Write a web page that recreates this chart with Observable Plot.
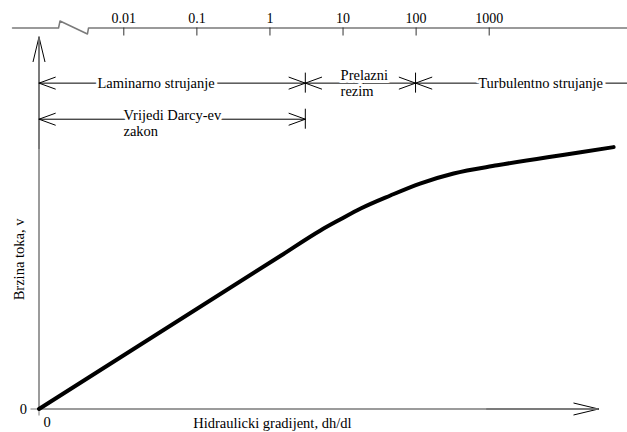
<!DOCTYPE html>
<html><head><meta charset="utf-8">
<script src="https://cdn.jsdelivr.net/npm/d3@7"></script>
<script src="https://cdn.jsdelivr.net/npm/@observablehq/plot@0.6"></script>
<style>
html,body{margin:0;padding:0;background:#fff;overflow:hidden;}
#chart{position:relative;width:627px;height:432px;}
#chart svg{position:absolute;left:0;top:0;overflow:visible;}
</style></head><body><div id="chart"></div>
<script>
// ---- data ----
const gradient = [0, 4.32, 5.03, 5.39, 5.75, 6.28, 6.81, 7.41, 8.19, 9.09, 9.68, 10.27];
const velocity = [0, 4.12, 4.80, 5.10, 5.39, 5.74, 6.06, 6.33, 6.55, 6.77, 6.90, 7.04];
const reTicks = [0.01, 0.1, 1, 10, 100, 1000];
const reTickLabels = ["0.01", "0.1", "1", "10", "100", "1000"];
const regimeLabels = ["Laminarno strujanje", "Prelazni\nrezim", "Turbulentno strujanje"];
const regimeFrom = [0, 4.76, 6.73];
const regimeTo = [4.76, 6.73, 11];
const darcyLabel = "Vrijedi Darcy-ev\nzakon";
const darcyFrom = 0;
const darcyTo = 4.76;
const breakRe = [0.0003, 0.00128, 0.00134, 0.00318, 0.00329, 100000];
const breakLevel = [0, 0, 1, -0.86, 0, 0];
const xTitle = "Hidraulicki gradijent, dh/dl";
const yTitle = "Brzina toka, v";
const zeroLabel = "0";

// ---- layout ----
const serif = '"Liberation Serif", "Times New Roman", Times, serif';
const gray = "#7a7a7a";
const rowRegime = 8.76, rowDarcy = 7.79;
const regimeArrowMid = [2.08, 5.8, 8.98];
const regimeLabelAt = [1.045, 5.39, 7.85];
const darcyLabelAt = 1.51, darcyMid = 2.5;

const curveData = gradient.map((g, i) => ({g, v: velocity[i]}));
const regimeArrows = regimeLabels.flatMap((l, i) => [
  {x1: regimeArrowMid[i], x2: regimeFrom[i]},
  {x1: regimeArrowMid[i], x2: regimeTo[i]}
]);
const darcyArrows = [{x1: darcyMid, x2: darcyFrom}, {x1: darcyMid, x2: darcyTo}];
const regimeText = regimeLabels.map((l, i) => ({x: regimeLabelAt[i], text: l}));
const breakData = breakRe.map((r, i) => ({r, v: breakLevel[i]}));

const halo = {fill: "black", stroke: "white", strokeWidth: 6, paintOrder: "stroke", strokeLinejoin: "round"};

const mainPlot = Plot.plot({
  width: 627, height: 432,
  marginLeft: 38.5, marginRight: 29, marginTop: 36.5, marginBottom: 23.5,
  x: {domain: [0, 10], axis: null},
  y: {domain: [0, 10], axis: null},
  style: {fontFamily: serif, fontSize: "14.5px", background: "transparent", color: "black"},
  marks: [
    Plot.arrow([0], {x1: 0, x2: 0, y1: 7, y2: 10, stroke: "black", strokeWidth: 1, headLength: 38, headAngle: 27}),
    Plot.arrow([0], {x1: 8, x2: 10, y1: 0, y2: 0, stroke: "black", strokeWidth: 1, headLength: 38, headAngle: 27}),
    Plot.ruleX([0], {y1: 0, y2: 10, stroke: gray, strokeWidth: 1.5}),
    Plot.ruleY([0], {x1: 0, x2: 10, stroke: gray, strokeWidth: 1.5}),
    Plot.axisY({ticks: [0], tickSize: 8, tickPadding: 4, tickFormat: () => zeroLabel, label: null, stroke: gray, fill: "black", fontSize: 14.5}),
    Plot.axisX({ticks: [0], tickSize: 7, tickFormat: () => "", label: null, stroke: gray}),
    Plot.text([zeroLabel], {x: 0, y: 0, text: d => d, dx: 8, dy: 13, fill: "black"}),
    Plot.arrow(regimeArrows, {x1: "x1", x2: "x2", y1: () => rowRegime, y2: () => rowRegime, stroke: "black", strokeWidth: 1, headLength: 26, headAngle: 40}),
    Plot.arrow(darcyArrows, {x1: "x1", x2: "x2", y1: () => rowDarcy, y2: () => rowDarcy, stroke: "black", strokeWidth: 1, headLength: 26, headAngle: 40}),
    Plot.ruleX(regimeFrom.slice(1), {x: d => d, y1: () => rowRegime, y2: () => rowRegime, insetTop: -10, insetBottom: -10, stroke: "black", strokeWidth: 1}),
    Plot.ruleX([darcyTo], {x: d => d, y1: () => rowDarcy, y2: () => rowDarcy, insetTop: -10, insetBottom: -10, stroke: "black", strokeWidth: 1}),
    Plot.text(regimeText, {x: "x", y: () => rowRegime, text: "text", textAnchor: "start", lineAnchor: "middle", lineHeight: 1.1, ...halo}),
    Plot.text([darcyLabel], {x: darcyLabelAt, y: rowDarcy, text: d => d, textAnchor: "start", lineAnchor: "middle", lineHeight: 1.1, dy: 4, ...halo}),
    Plot.line(curveData, {x: "g", y: "v", stroke: "black", strokeWidth: 4, curve: "monotone-x", strokeLinecap: "round", strokeLinejoin: "round"}),
    Plot.text([xTitle], {x: 4.17, y: 0, text: d => d, dy: 14, fill: "black"}),
    Plot.text([yTitle], {x: 0, y: 4.02, dx: -20, text: d => d, rotate: -90, fill: "black"})
  ]
});

const topAxisPlot = Plot.plot({
  width: 627, height: 45,
  marginLeft: 0, marginRight: 0, marginTop: 0, marginBottom: 0,
  x: {type: "log", domain: [0.01, 1000], range: [123.3, 488.7], axis: null},
  y: {domain: [-1, 1], range: [34.5, 20.5], axis: null},
  style: {fontFamily: serif, fontSize: "14px", background: "transparent", color: "black"},
  marks: [
    Plot.line(breakData, {x: "r", y: "v", stroke: gray, strokeWidth: 1.5}),
    Plot.ruleX(reTicks, {x: d => d, y1: () => 0, y2: () => 0, insetBottom: -8, stroke: "#333", strokeWidth: 1}),
    Plot.text(reTicks, {x: d => d, y: () => 0, text: (d, i) => reTickLabels[i], lineAnchor: "bottom", dy: -5, fill: "black"})
  ]
});

const chart = document.getElementById("chart");
chart.appendChild(mainPlot);
chart.appendChild(topAxisPlot);
</script></body></html>
